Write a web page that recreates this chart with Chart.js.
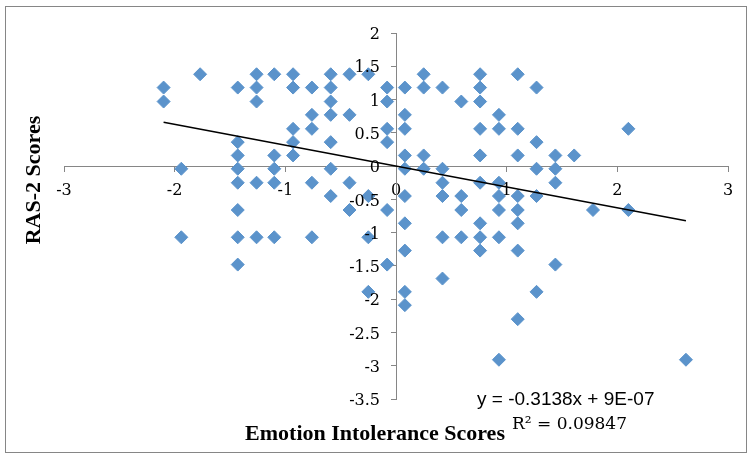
<!DOCTYPE html>
<html>
<head>
<meta charset="utf-8">
<script src="https://cdn.jsdelivr.net/npm/chart.js@4/dist/chart.umd.min.js"></script>
<style>
  html, body { margin: 0; padding: 0; background: #fff; }
  #wrap { width: 750px; height: 455px; }
</style>
</head>
<body>
<div id="wrap"><canvas id="scatterChart" width="750" height="455"></canvas></div>
<script>
// Emotion intolerance (x) and RAS-2 (y) scores, one line per x column
const emotionScores = [
  -2.10, -2.10,
  -1.94, -1.94,
  -1.77,
  -1.43, -1.43, -1.43, -1.43, -1.43, -1.43, -1.43, -1.43,
  -1.26, -1.26, -1.26, -1.26, -1.26,
  -1.10, -1.10, -1.10, -1.10, -1.10,
  -0.93, -0.93, -0.93, -0.93, -0.93,
  -0.76, -0.76, -0.76, -0.76, -0.76,
  -0.59, -0.59, -0.59, -0.59, -0.59, -0.59, -0.59,
  -0.42, -0.42, -0.42, -0.42,
  -0.25, -0.25, -0.25, -0.25,
  -0.08, -0.08, -0.08, -0.08, -0.08, -0.08,
  0.08, 0.08, 0.08, 0.08, 0.08, 0.08, 0.08, 0.08, 0.08, 0.08,
  0.25, 0.25, 0.25, 0.25,
  0.42, 0.42, 0.42, 0.42, 0.42, 0.42,
  0.59, 0.59, 0.59, 0.59,
  0.76, 0.76, 0.76, 0.76, 0.76, 0.76, 0.76, 0.76, 0.76,
  0.93, 0.93, 0.93, 0.93, 0.93, 0.93, 0.93,
  1.10, 1.10, 1.10, 1.10, 1.10, 1.10, 1.10, 1.10,
  1.27, 1.27, 1.27, 1.27, 1.27,
  1.44, 1.44, 1.44, 1.44,
  1.61,
  1.78,
  2.10, 2.10,
  2.62
];
const rasScores = [
  1.18, 0.97,
  -0.04, -1.07,
  1.38,
  1.18, 0.36, 0.16, -0.04, -0.25, -0.66, -1.07, -1.48,
  1.38, 1.18, 0.97, -0.25, -1.07,
  1.38, 0.16, -0.04, -0.25, -1.07,
  1.38, 1.18, 0.56, 0.36, 0.16,
  1.18, 0.77, 0.56, -0.25, -1.07,
  1.38, 1.18, 0.97, 0.77, 0.36, -0.04, -0.45,
  1.38, 0.77, -0.25, -0.66,
  1.38, -0.45, -1.07, -1.89,
  1.18, 0.97, 0.56, 0.36, -0.66, -1.48,
  1.18, 0.77, 0.56, 0.16, -0.04, -0.45, -0.86, -1.27, -1.89, -2.09,
  1.38, 1.18, 0.16, -0.04,
  1.18, -0.04, -0.25, -0.45, -1.07, -1.69,
  0.97, -0.45, -0.66, -1.07,
  1.38, 1.18, 0.97, 0.56, 0.16, -0.25, -0.86, -1.07, -1.27,
  0.77, 0.56, -0.25, -0.45, -0.66, -1.07, -2.91,
  1.38, 0.56, 0.16, -0.45, -0.66, -0.86, -1.27, -2.30,
  1.18, 0.36, -0.04, -0.45, -1.89,
  0.16, -0.04, -0.25, -1.48,
  0.16,
  -0.66,
  0.56, -0.66,
  -2.91
];

// linear trendline as reported on the chart
const trendSlope = -0.3138;
const trendIntercept = 0.0000009;
const trendLabel = "y = -0.3138x + 9E-07";
const r2Label = "R\u00B2 = 0.09847";

const xAxisTitle = "Emotion Intolerance Scores";
const yAxisTitle = "RAS-2 Scores";

document.addEventListener("DOMContentLoaded", () => {
  const points = emotionScores.map((x, i) => ({ x: x, y: rasScores[i] }));
  const xMin = Math.min(...emotionScores);
  const xMax = Math.max(...emotionScores);
  const trendPoints = [
    { x: xMin, y: trendSlope * xMin + trendIntercept },
    { x: xMax, y: trendSlope * xMax + trendIntercept }
  ];

  const axisGrey = "#868686";
  const tickFont = "16px 'DejaVu Serif'";
  const tickText = (value) => String(Math.round(value * 10) / 10);

  const decorations = {
    id: "decorations",
    beforeDraw(chart) {
      const ctx = chart.ctx;
      ctx.save();
      ctx.strokeStyle = axisGrey;
      ctx.lineWidth = 1;
      ctx.strokeRect(5.5, 6.5, 741, 446);
      ctx.restore();
    },
    afterDraw(chart) {
      const ctx = chart.ctx;
      const yScale = chart.scales.y;
      const axisX = chart.scales.x.getPixelForValue(0);
      ctx.save();
      ctx.fillStyle = "#000";

      // y tick labels sit left of the centred axis, past the tick marks
      ctx.font = tickFont;
      ctx.textAlign = "right";
      ctx.textBaseline = "middle";
      yScale.ticks.forEach((tick) => {
        ctx.fillText(tickText(tick.value), axisX - 16, yScale.getPixelForValue(tick.value) + 2);
      });

      ctx.font = "bold 22px 'Liberation Serif'";
      ctx.textAlign = "center";
      ctx.fillText(xAxisTitle, 375, 434);

      ctx.save();
      ctx.translate(34, 180);
      ctx.rotate(-Math.PI / 2);
      ctx.fillText(yAxisTitle, 0, 0);
      ctx.restore();

      ctx.font = "19px 'Liberation Sans'";
      ctx.textAlign = "left";
      ctx.fillText(trendLabel, 477, 400);
      ctx.font = "17px 'DejaVu Serif'";
      ctx.fillText(r2Label, 512, 425);
      ctx.restore();
    }
  };

  new Chart(document.getElementById("scatterChart"), {
    type: "scatter",
    data: {
      datasets: [
        {
          type: "line",
          data: trendPoints,
          borderColor: "#000",
          borderWidth: 1.5,
          pointRadius: 0,
          fill: false,
          order: 0
        },
        {
          data: points,
          pointStyle: "rectRot",
          pointRadius: 6.5,
          pointHoverRadius: 6.5,
          backgroundColor: "#5B93CB",
          borderColor: "#5B93CB",
          borderWidth: 1,
          order: 1
        }
      ]
    },
    options: {
      responsive: false,
      animation: false,
      layout: {
        padding: { left: 64, right: 22, top: 33, bottom: 56 }
      },
      plugins: {
        legend: { display: false },
        tooltip: { enabled: false }
      },
      scales: {
        x: {
          type: "linear",
          position: { y: 0 },
          min: -3,
          max: 3,
          z: 1,
          ticks: {
            stepSize: 1,
            color: "#000",
            padding: 10,
            callback: tickText,
            font: { family: "DejaVu Serif", size: 16 }
          },
          border: { display: true, color: axisGrey, width: 1 },
          grid: { drawOnChartArea: false, drawTicks: true, tickLength: 5, color: axisGrey }
        },
        y: {
          type: "linear",
          position: { x: 0 },
          min: -3.5,
          max: 2,
          z: 1,
          ticks: {
            stepSize: 0.5,
            display: false
          },
          border: { display: true, color: axisGrey, width: 1 },
          grid: { drawOnChartArea: false, drawTicks: true, tickLength: 5, color: axisGrey }
        }
      }
    },
    plugins: [decorations]
  });
});
</script>
</body>
</html>
